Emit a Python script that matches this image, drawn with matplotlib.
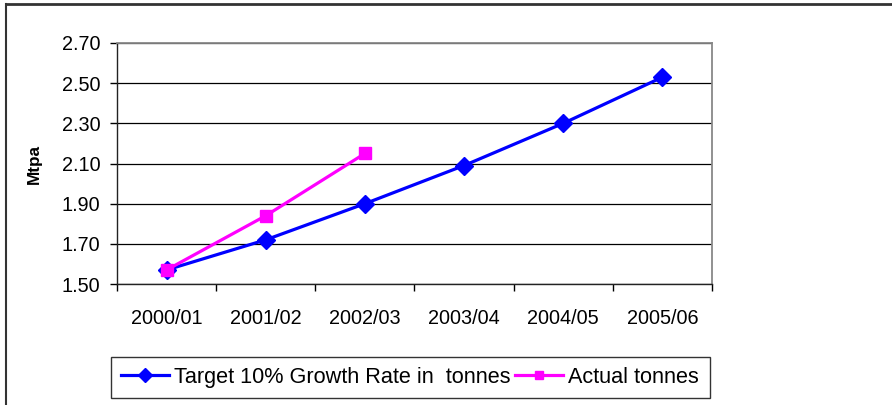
import numpy as np
import matplotlib.pyplot as plt
from matplotlib.lines import Line2D
from matplotlib.patches import Rectangle

plt.rcParams['font.family'] = ['Liberation Sans', 'DejaVu Sans']

years = ['2000/01', '2001/02', '2002/03', '2003/04', '2004/05', '2005/06']
target = [1.57, 1.72, 1.90, 2.09, 2.30, 2.53]
actual = [1.57, 1.84, 2.15]
yticks = [1.50, 1.70, 1.90, 2.10, 2.30, 2.50, 2.70]

fig = plt.figure(figsize=(8.92, 4.05), dpi=100)
ax = fig.add_axes([117/892, 1 - 284/405, 595/892, 241/405])

x = np.arange(len(years))
ax.plot(x, target, color='#0000ff', lw=2.3, marker='D', ms=9.5,
        label='Target 10% Growth Rate in  tonnes', zorder=3)
ax.plot(x[:len(actual)], actual, color='#ff00ff', lw=2.3, marker='s', ms=8,
        label='Actual tonnes', zorder=4)

ax.set_xlim(-0.5, len(years) - 0.5)
ax.set_ylim(1.50, 2.70)
ax.set_yticks(yticks)
ax.set_yticklabels(['%.2f' % v for v in yticks])
ax.set_xticks(x)
ax.set_xticklabels(years)
ax.set_xticks(np.arange(-0.5, len(years)), minor=True)
ax.tick_params(axis='x', which='major', length=0, pad=18, labelsize=14.3)
ax.tick_params(axis='x', which='minor', length=5, width=1, direction='out')
ax.tick_params(axis='y', length=5, width=1, direction='out', pad=7,
               labelsize=14.3)
ax.grid(axis='y', color='black', lw=0.9)
ax.set_axisbelow(True)

for side in ['top', 'right']:
    ax.spines[side].set_color('#888888')
    ax.spines[side].set_linewidth(1.3)
for side in ['left', 'bottom']:
    ax.spines[side].set_color('#222222')
    ax.spines[side].set_linewidth(1)

ax.set_ylabel('Mtpa', fontsize=12.3, fontweight='bold', labelpad=14)

# legend in its own box below the plot
fig.add_artist(Rectangle((111/892, 1 - 398/405), 599/892, 41/405,
                         transform=fig.transFigure, fill=False,
                         edgecolor='#333333', lw=1))
ax.legend(loc='center left', bbox_to_anchor=(112/892, 1 - 377.5/405),
          bbox_transform=fig.transFigure, ncol=2, frameon=False,
          fontsize=15.6, handlelength=2.25, handletextpad=0.2,
          columnspacing=0.2, markerscale=0.75, borderaxespad=0)

# outer chart frame (top and left edges visible)
fig.add_artist(Line2D([6/892, 1], [1 - 4/405, 1 - 4/405],
                      transform=fig.transFigure, color='#333333', lw=2))
fig.add_artist(Line2D([6/892, 6/892], [0, 1 - 4/405],
                      transform=fig.transFigure, color='#333333', lw=1.5))

fig.savefig('out.png', dpi=100)
